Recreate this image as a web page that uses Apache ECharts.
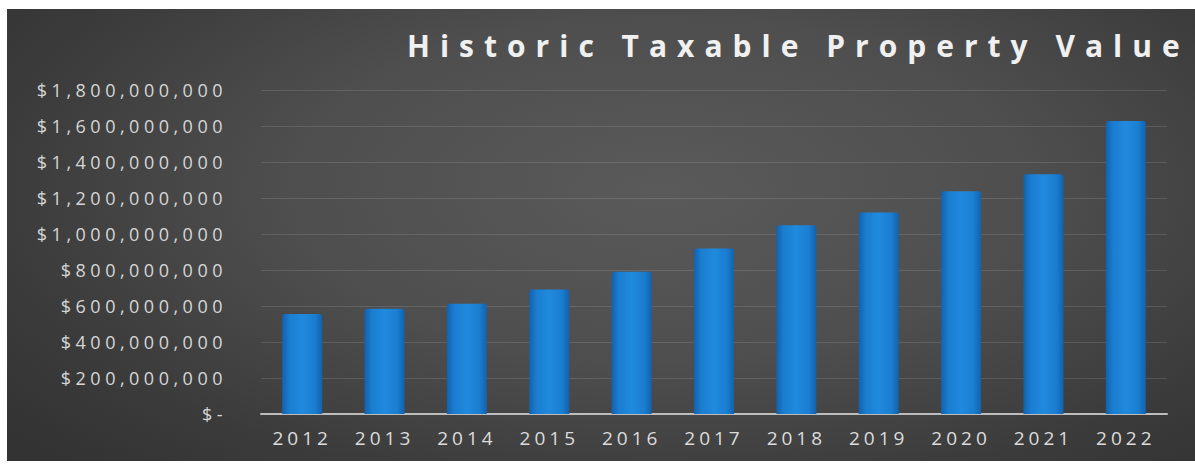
<!DOCTYPE html>
<html>
<head>
<meta charset="utf-8">
<script src="https://cdn.jsdelivr.net/npm/echarts@6/dist/echarts.min.js"></script>
<style>
  html, body { margin: 0; padding: 0; background: #ffffff; width: 1195px; height: 465px; overflow: hidden; }
  #bg { position: absolute; left: 7px; top: 9px; width: 1188px; height: 452px;
        background: radial-gradient(ellipse 70% 85% at 55% 40%, #5a5a5a 0%, #4e4e4e 45%, #3b3b3b 80%, #333333 100%); }
  #chart { position: absolute; left: 0; top: 0; width: 1195px; height: 465px; }
</style>
</head>
<body>
<div id="bg"></div>
<div id="chart"></div>
<script>
const titleText = 'Historic Taxable Property Value';
const categories = ['2012', '2013', '2014', '2015', '2016', '2017', '2018', '2019', '2020', '2021', '2022'];
const values = [555000000, 585000000, 613000000, 691000000, 790000000, 920000000, 1048000000, 1120000000, 1237000000, 1332000000, 1628000000];
const yMin = 0;
const yMax = 1800000000;
const yStep = 200000000;

const chart = echarts.init(document.getElementById('chart'), null, { renderer: 'svg' });

chart.setOption({
  animation: false,
  backgroundColor: 'transparent',
  title: {
    text: titleText,
    left: 407,
    top: 30,
    padding: 0,
    textStyle: { color: '#f0f0f0', fontSize: 30, fontWeight: 'bold', fontFamily: 'Open Sans' }
  },
  grid: { left: 261, right: 28, top: 90, bottom: 51, containLabel: false },
  xAxis: {
    type: 'category',
    data: categories,
    axisLine: { show: true, lineStyle: { color: '#bdbdbd', width: 2 } },
    axisTick: { show: false },
    axisLabel: { color: '#dcdcdc', fontSize: 19, fontFamily: 'Open Sans', margin: 14 }
  },
  yAxis: {
    type: 'value',
    min: yMin,
    max: yMax,
    interval: yStep,
    axisLine: { show: false },
    axisTick: { show: false },
    splitLine: { show: true, lineStyle: { color: 'rgba(255,255,255,0.12)', width: 1 } },
    axisLabel: {
      color: '#d6d6d6', fontSize: 18, fontFamily: 'Open Sans', margin: 34,
      formatter: function (v) { return v === 0 ? '$-' : '$' + v.toLocaleString('en-US'); }
    }
  },
  series: [{
    type: 'bar',
    data: values,
    barWidth: 40,
    itemStyle: {
      borderRadius: [3, 3, 0, 0],
      color: new echarts.graphic.LinearGradient(0, 0, 1, 0, [
        { offset: 0, color: '#1262ad' },
        { offset: 0.18, color: '#1a7dd0' },
        { offset: 0.5, color: '#218ade' },
        { offset: 0.82, color: '#1a7dd0' },
        { offset: 1, color: '#1262ad' }
      ])
    }
  }]
});

function spaceText() {
  document.querySelectorAll('#chart svg text').forEach(function (el) {
    const t = el.textContent || '';
    let s = '4px';
    if (t.indexOf('Historic') === 0) s = '10px';
    else if (t.charAt(0) === '$') s = '4.5px';
    el.style.letterSpacing = s;
  });
}
chart.on('finished', spaceText);
setTimeout(spaceText, 0);
</script>
</body>
</html>
